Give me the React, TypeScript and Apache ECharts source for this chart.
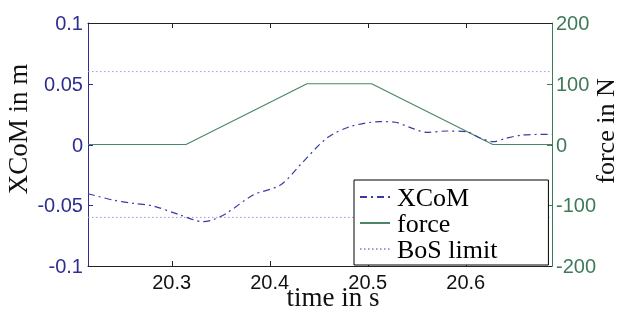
import React, { useEffect, useRef } from "react";
import * as echarts from "echarts";

const xcomTime = [20.2146, 20.24, 20.261, 20.281, 20.3085, 20.332, 20.342, 20.356, 20.383, 20.411, 20.431, 20.458, 20.482, 20.5125, 20.528, 20.543, 20.56, 20.581, 20.601, 20.614, 20.628, 20.641, 20.658, 20.688];
const xcomValues = [-0.0405, -0.0457, -0.0484, -0.0506, -0.058, -0.0635, -0.062, -0.0566, -0.0416, -0.0333, -0.0169, 0.0051, 0.0147, 0.0188, 0.0183, 0.0141, 0.01, 0.0111, 0.0105, 0.0056, 0.0023, 0.0051, 0.0078, 0.0084];
const forceTime = [20.2146, 20.3146, 20.438, 20.504, 20.6276, 20.688];
const forceValues = [0, 0, 100, 100, 0, 0];
const bosLimit = [0.06, -0.06];
const xRange = [20.2146, 20.688];
const xTicks = [20.3, 20.4, 20.5, 20.6];
const leftTicks = [-0.05, 0, 0.05];
const rightTicks = [-100, 0, 100];

const BLUE = "#2e2e90";
const GREEN = "#3f7a58";
const LINE_BLUE = "#3a3aa6";
const LINE_GREEN = "#4d8664";
const BOS = "#9a9ad6";
const SERIF = "Liberation Serif";
const SANS = "Liberation Sans";
const TICK = 5;

export default function App() {
  const ref = useRef<HTMLDivElement>(null);
  useEffect(() => {
    const chart = echarts.init(ref.current!, null, { renderer: "svg" });
    const zip = (a: number[], b: number[]) => a.map((t, i) => [t, b[i]]);
    const xAxisBase = {
      type: "value",
      min: xRange[0],
      max: xRange[1],
      axisLine: { onZero: false, lineStyle: { color: "#222", width: 1 } },
      axisTick: { show: false },
      splitLine: { show: false },
    };
    chart.setOption({
      animation: false,
      grid: { left: 88, right: 67, top: 23, bottom: 45 },
      legend: {
        orient: "vertical",
        left: 354,
        top: 180,
        data: ["XCoM", "force", "BoS limit"],
        itemWidth: 30,
        itemHeight: 14,
        itemGap: 0,
        padding: [4, 51, 3, 5],
        borderColor: "#000",
        borderWidth: 1,
        backgroundColor: "#fff",
        itemStyle: { opacity: 0, borderWidth: 0 },
        textStyle: { fontFamily: SERIF, fontSize: 26, color: "#000", lineHeight: 24, padding: [0, 0, 0, 2] },
      },
      xAxis: [
        {
          ...xAxisBase,
          position: "bottom",
          axisLabel: { customValues: xTicks, fontFamily: SANS, fontSize: 20, color: "#111", margin: 6, formatter: (v: number) => v.toFixed(1) },
        },
        {
          ...xAxisBase,
          position: "top",
          axisLabel: { show: false },
        },
      ],
      yAxis: [
        {
          type: "value",
          min: -0.1,
          max: 0.1,
          interval: 0.05,
          position: "left",
          axisLine: { show: true, onZero: false, lineStyle: { color: BLUE, width: 1 } },
          axisTick: { show: false },
          axisLabel: { fontFamily: SANS, fontSize: 20, color: BLUE, margin: 5 },
          splitLine: { show: false },
        },
        {
          type: "value",
          min: -200,
          max: 200,
          interval: 100,
          position: "right",
          axisLine: { show: true, onZero: false, lineStyle: { color: GREEN, width: 1 } },
          axisTick: { show: false },
          axisLabel: { fontFamily: SANS, fontSize: 20, color: GREEN, margin: 4 },
          splitLine: { show: false },
        },
      ],
      series: [
        {
          name: "BoS limit",
          type: "line",
          yAxisIndex: 0,
          symbol: "none",
          data: [[xRange[0], bosLimit[0]], [xRange[1], bosLimit[0]]],
          lineStyle: { color: BOS, width: 1, type: [1.5, 2.5] },
          itemStyle: { color: BOS },
        },
        {
          name: "BoS limit",
          type: "line",
          yAxisIndex: 0,
          symbol: "none",
          data: [[xRange[0], bosLimit[1]], [xRange[1], bosLimit[1]]],
          lineStyle: { color: BOS, width: 1, type: [1.5, 2.5] },
          itemStyle: { color: BOS },
        },
        {
          name: "force",
          type: "line",
          yAxisIndex: 1,
          symbol: "none",
          data: zip(forceTime, forceValues),
          lineStyle: { color: LINE_GREEN, width: 1.2 },
          itemStyle: { color: LINE_GREEN },
        },
        {
          name: "XCoM",
          type: "line",
          yAxisIndex: 0,
          symbol: "none",
          smooth: 0.3,
          data: zip(xcomTime, xcomValues),
          lineStyle: { color: LINE_BLUE, width: 1.2, type: [7, 4, 2, 4] },
          itemStyle: { color: LINE_BLUE },
          z: 3,
        },
      ],
      graphic: [
        {
          type: "text",
          x: 18,
          y: 129,
          rotation: Math.PI / 2,
          style: { text: "XCoM in m", fontFamily: SERIF, fontSize: 27, fill: "#111", align: "center", verticalAlign: "middle" },
        },
        {
          type: "text",
          x: 605,
          y: 131,
          rotation: Math.PI / 2,
          style: { text: "force in N", fontFamily: SERIF, fontSize: 26, fill: "#111", align: "center", verticalAlign: "middle" },
        },
        {
          type: "text",
          x: 333,
          y: 297,
          style: { text: "time in s", fontFamily: SERIF, fontSize: 27, fill: "#111", align: "center", verticalAlign: "middle" },
        },
      ],
    });

    // tick marks placed through the library's own scales
    const x0 = chart.convertToPixel({ xAxisIndex: 0 }, xRange[0]) as number;
    const x1 = chart.convertToPixel({ xAxisIndex: 0 }, xRange[1]) as number;
    const yBottom = chart.convertToPixel({ yAxisIndex: 0 }, -0.1) as number;
    const yTop = chart.convertToPixel({ yAxisIndex: 0 }, 0.1) as number;
    const ticks: any[] = [];
    xTicks.forEach((v) => {
      const px = Math.round(chart.convertToPixel({ xAxisIndex: 0 }, v) as number) + 0.5;
      ticks.push({ type: "line", shape: { x1: px, y1: yBottom, x2: px, y2: yBottom - TICK }, style: { stroke: "#222", lineWidth: 1 }, silent: true });
      ticks.push({ type: "line", shape: { x1: px, y1: yTop, x2: px, y2: yTop + TICK }, style: { stroke: "#222", lineWidth: 1 }, silent: true });
    });
    leftTicks.forEach((v) => {
      const py = Math.round(chart.convertToPixel({ yAxisIndex: 0 }, v) as number) + 0.5;
      ticks.push({ type: "line", shape: { x1: x0, y1: py, x2: x0 + TICK, y2: py }, style: { stroke: BLUE, lineWidth: 1 }, silent: true });
    });
    rightTicks.forEach((v) => {
      const py = Math.round(chart.convertToPixel({ yAxisIndex: 1 }, v) as number) + 0.5;
      ticks.push({ type: "line", shape: { x1: x1, y1: py, x2: x1 - TICK, y2: py }, style: { stroke: GREEN, lineWidth: 1 }, silent: true });
    });
    const opt: any = chart.getOption();
    chart.setOption({ graphic: [...(opt.graphic?.[0]?.elements ?? []).map(() => ({})), ...ticks] });
    return () => chart.dispose();
  }, []);
  return <div ref={ref} style={{ position: "fixed", left: 0, top: 0, width: 619, height: 311 }} />;
}
